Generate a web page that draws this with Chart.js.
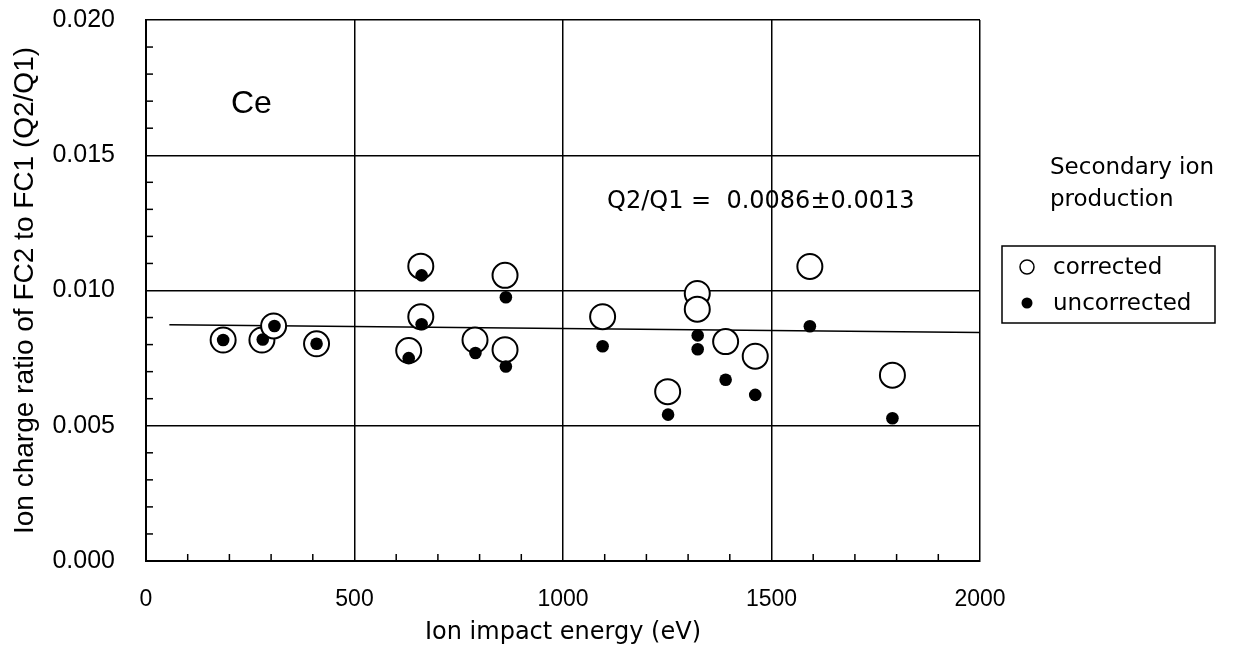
<!DOCTYPE html>
<html>
<head>
<meta charset="utf-8">
<script src="https://cdn.jsdelivr.net/npm/chart.js@4"></script>
<style>
  html, body { margin: 0; padding: 0; background: #fff; }
</style>
</head>
<body>
<canvas id="chart" width="1236" height="663"></canvas>
<script>
// Secondary ion production, Ce: open circles = corrected, dots = uncorrected
const correctedX = [185, 278, 306, 409, 630, 659, 659, 789, 861, 861, 1095, 1251, 1322, 1322, 1390, 1461, 1592, 1790];
const correctedY = [0.00817, 0.00817, 0.00869, 0.00803, 0.00778, 0.0109, 0.00903, 0.00817, 0.01056, 0.00781,
                    0.00903, 0.00626, 0.00989, 0.00931, 0.00811, 0.00757, 0.01089, 0.00687];

const uncorrectedX = [185, 280, 308, 409, 630, 661, 661, 790, 863, 863, 1095, 1252, 1323, 1323, 1390, 1461, 1592, 1790];
const uncorrectedY = [0.00817, 0.00819, 0.00869, 0.00803, 0.0075, 0.01056, 0.00875, 0.00769, 0.00975, 0.00719,
                      0.00794, 0.00541, 0.00834, 0.00783, 0.0067, 0.00614, 0.00868, 0.00528];

// fitted mean line
const fitX = [56, 2000];
const fitY = [0.00873, 0.00845];

const minorYTicks = [0.001, 0.002, 0.003, 0.004, 0.006, 0.007, 0.008, 0.009,
                     0.011, 0.012, 0.013, 0.014, 0.016, 0.017, 0.018, 0.019];
const minorXTicks = [100, 200, 300, 400, 600, 700, 800, 900, 1100, 1200, 1300, 1400,
                     1600, 1700, 1800, 1900];

function toPoints(xs, ys) {
    return xs.map((x, i) => ({ x: x, y: ys[i] }));
}

const extras = {
    id: 'extras',
    beforeDatasetsDraw(chart) {
        const ctx = chart.ctx;
        const xs = chart.scales.x, ys = chart.scales.y;
        ctx.save();
        ctx.strokeStyle = '#000';
        ctx.lineWidth = 1.5;
        minorYTicks.forEach(v => {
            const py = ys.getPixelForValue(v);
            ctx.beginPath();
            ctx.moveTo(xs.left, py);
            ctx.lineTo(xs.left + 7, py);
            ctx.stroke();
        });
        minorXTicks.forEach(v => {
            const px = xs.getPixelForValue(v);
            ctx.beginPath();
            ctx.moveTo(px, ys.bottom);
            ctx.lineTo(px, ys.bottom - 7);
            ctx.stroke();
        });
        ctx.restore();
    },
    afterDraw(chart) {
        const ctx = chart.ctx;
        ctx.save();
        ctx.fillStyle = '#000';
        ctx.strokeStyle = '#000';
        ctx.textBaseline = 'alphabetic';
        ctx.textAlign = 'left';

        ctx.font = '32px "Liberation Sans"';
        ctx.fillText('Ce', 231, 113);

        ctx.font = '24px "DejaVu Sans"';
        ctx.fillText('Q2/Q1 =  0.0086\u00b10.0013', 607, 208);

        ctx.font = '23px "DejaVu Sans"';
        ctx.fillText('Secondary ion', 1050, 174);
        ctx.fillText('production', 1050, 206);

        // legend box
        ctx.lineWidth = 1.5;
        ctx.strokeRect(1002, 246, 213, 77);

        ctx.beginPath();
        ctx.arc(1027, 267, 7, 0, Math.PI * 2);
        ctx.lineWidth = 1.5;
        ctx.stroke();
        ctx.beginPath();
        ctx.arc(1027, 303, 5.5, 0, Math.PI * 2);
        ctx.fill();

        ctx.fillText('corrected', 1053, 274);
        ctx.fillText('uncorrected', 1053, 310);
        ctx.restore();
    }
};

const chart = new Chart(document.getElementById('chart'), {
    type: 'scatter',
    data: {
        datasets: [
            {
                label: 'uncorrected',
                data: toPoints(uncorrectedX, uncorrectedY),
                pointStyle: 'circle',
                pointRadius: 6.3,
                backgroundColor: '#000',
                borderColor: '#000',
                borderWidth: 0,
                order: 0
            },
            {
                label: 'corrected',
                data: toPoints(correctedX, correctedY),
                pointStyle: 'circle',
                pointRadius: 12.5,
                backgroundColor: '#fff',
                borderColor: '#000',
                borderWidth: 2,
                order: 1
            },
            {
                label: 'fit',
                data: toPoints(fitX, fitY),
                showLine: true,
                pointRadius: 0,
                borderColor: '#000',
                borderWidth: 1.5,
                order: 2
            }
        ]
    },
    options: {
        responsive: false,
        animation: false,
        devicePixelRatio: 1,
        events: [],
        layout: {
            padding: { left: 0, top: 20, right: 256, bottom: 0 }
        },
        plugins: {
            legend: { display: false },
            tooltip: { enabled: false }
        },
        scales: {
            x: {
                type: 'linear',
                min: 0,
                max: 2000,
                afterFit: function(scale) {
                    scale.height = 102;
                    scale.paddingLeft = 0;
                    scale.paddingRight = 0;
                },
                ticks: {
                    stepSize: 500,
                    color: '#000',
                    padding: 25,
                    maxRotation: 0,
                    font: { family: '"Liberation Sans"', size: 23 },
                    callback: function(value) { return String(value); }
                },
                grid: { color: '#000', lineWidth: 1.5, drawTicks: false },
                border: { display: true, color: '#000', width: 2 },
                title: {
                    display: true,
                    text: 'Ion impact energy (eV)',
                    color: '#000',
                    padding: { top: 0, bottom: 16 },
                    font: { family: '"DejaVu Sans"', size: 24 }
                }
            },
            y: {
                type: 'linear',
                min: 0,
                max: 0.02,
                afterFit: function(scale) {
                    scale.width = 146;
                    scale.paddingTop = 0;
                    scale.paddingBottom = 0;
                },
                ticks: {
                    stepSize: 0.005,
                    color: '#000',
                    padding: 31,
                    font: { family: '"Liberation Sans"', size: 25 },
                    callback: function(value) { return value.toFixed(3); }
                },
                grid: { color: '#000', lineWidth: 1.5, drawTicks: false },
                border: { display: true, color: '#000', width: 2 },
                title: {
                    display: true,
                    text: 'Ion charge ratio of FC2 to FC1 (Q2/Q1)',
                    color: '#000',
                    padding: { top: 8, bottom: 0 },
                    font: { family: '"Liberation Sans"', size: 28 }
                }
            }
        }
    },
    plugins: [extras]
});
</script>
</body>
</html>
